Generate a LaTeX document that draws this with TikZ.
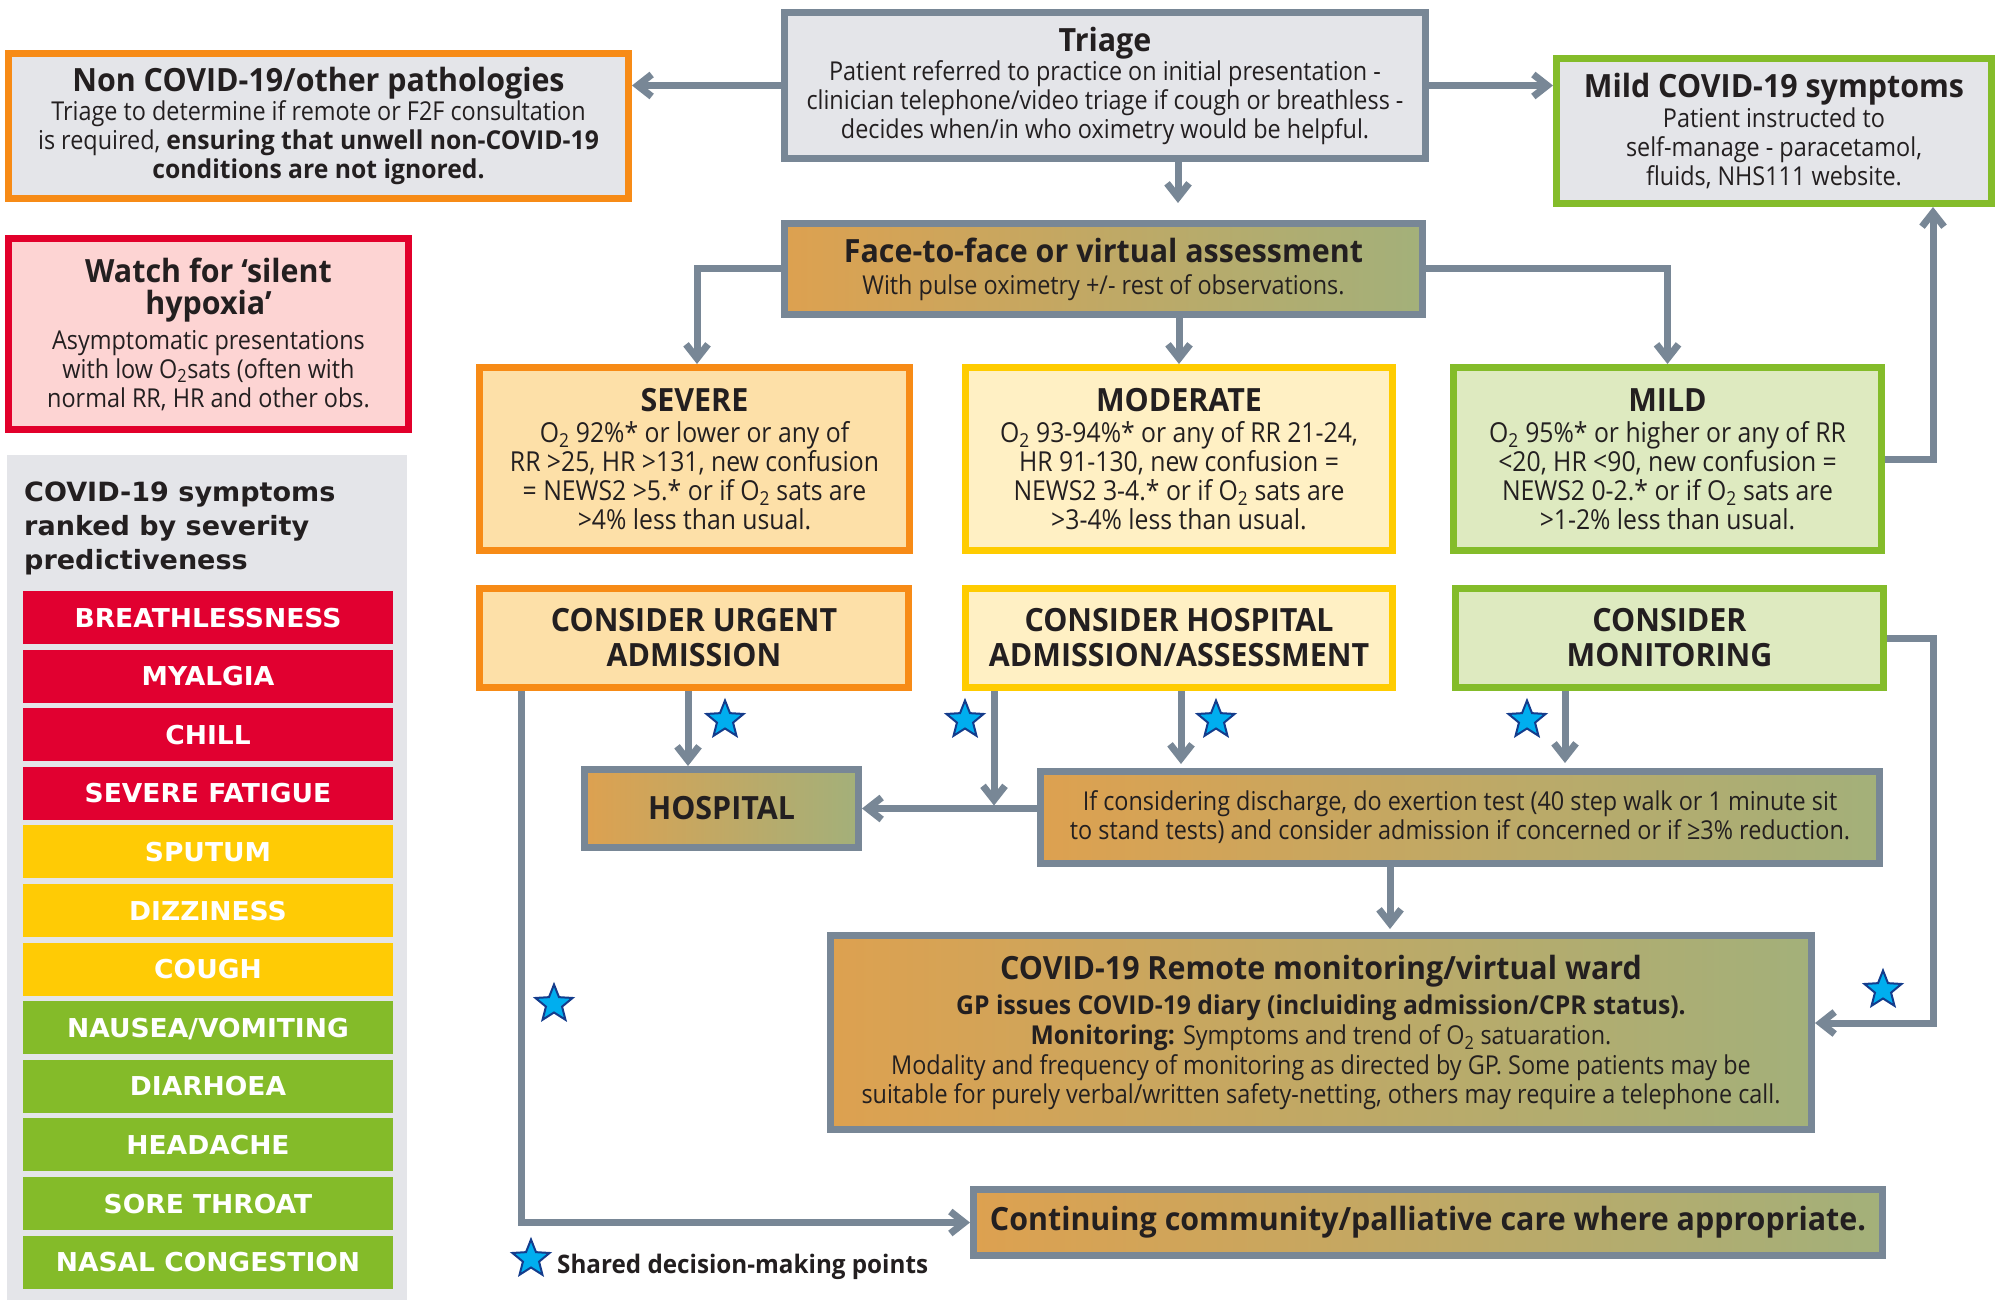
\documentclass[tikz,border=0pt]{standalone}
\usepackage{fontspec}
\setmainfont{Open Sans}[UprightFeatures={FakeStretch=0.9}, BoldFeatures={FakeStretch=0.95}]
\newfontfamily\widefont{DejaVu Sans}[FakeStretch=1.02]
\usetikzlibrary{arrows.meta,shapes.geometric}
\definecolor{agrey}{RGB}{120,135,150}
\definecolor{boxgrey}{RGB}{228,229,233}
\definecolor{orng}{RGB}{247,139,22}
\definecolor{redb}{RGB}{226,0,43}
\definecolor{pinkf}{RGB}{253,212,211}
\definecolor{grn}{RGB}{132,188,42}
\definecolor{grnf}{RGB}{222,234,192}
\definecolor{yel}{RGB}{255,204,0}
\definecolor{yelf}{RGB}{255,240,196}
\definecolor{orf}{RGB}{253,224,168}
\definecolor{gL}{RGB}{221,161,80}
\definecolor{gM}{RGB}{244,200,64}
\definecolor{gR}{RGB}{163,176,122}
\definecolor{starf}{RGB}{0,174,239}
\definecolor{stard}{RGB}{20,60,140}
\definecolor{symr}{RGB}{225,0,48}
\definecolor{symy}{RGB}{255,203,5}
\definecolor{symg}{RGB}{132,187,41}
\definecolor{txt}{RGB}{35,31,32}
\newcommand{\ttl}{\fontsize{32}{35}\selectfont\bfseries}
\newcommand{\bdy}{\fontsize{26}{29}\selectfont}
\newcommand{\sev}{\fontsize{27.5}{29}\selectfont}
\newcommand{\Otwo}{O\textsubscript{2}}
\begin{document}
\begin{tikzpicture}[x=1pt,y=-1pt,
  box/.style={rectangle, line width=7pt, inner sep=0pt, align=center, text=txt, font=\bdy},
  grad/.style={box, draw=agrey, left color=gL, middle color=gM, right color=gR},
  arr/.style={draw=agrey, line width=7pt, -{Straight Barb[length=14pt,width=22pt]}},
  sdm/.style={star, star points=5, star point ratio=2.3, minimum size=39pt, inner sep=0pt, fill=starf, draw=stard, line width=2pt},
  bar/.style={rectangle, minimum width=370pt, minimum height=53pt, inner sep=0pt, text=white, font=\widefont\bfseries\fontsize{26}{30}\selectfont, text height=19pt, text depth=0pt}]
\useasboundingbox (0,0) rectangle (1998,1300);
\fill[white] (0,0) rectangle (1998,1300);

% top row
\node[box, draw=orng, fill=boxgrey, minimum width=620pt, minimum height=145pt] (noncovid) at (318.5,126)
 {{\ttl Non COVID-19/other pathologies}\\ Triage to determine if remote or F2F consultation\\ is required, \textbf{ensuring that unwell non-COVID-19}\\ \textbf{conditions are not ignored.}};
\node[box, draw=agrey, fill=boxgrey, minimum width=641pt, minimum height=146pt] (triage) at (1105,85.5)
 {{\ttl Triage}\\ Patient referred to practice on initial presentation -\\ clinician telephone/video triage if cough or breathless -\\ decides when/in who oximetry would be helpful.};
\node[box, draw=grn, fill=boxgrey, minimum width=435pt, minimum height=145pt] (mildcovid) at (1774,131)
 {{\ttl Mild COVID-19 symptoms}\\[1pt] Patient instructed to\\ self-manage - paracetamol,\\ fluids, NHS111 website.};
\node[box, draw=redb, fill=pinkf, minimum width=400pt, minimum height=191pt] (watch) at (208.5,334)
 {{\ttl Watch for ‘silent}\\[3pt]{\ttl hypoxia’}\\[6pt] Asymptomatic presentations\\ with low \Otwo sats (often with\\ normal RR, HR and other obs.};
\node[grad, minimum width=638pt, minimum height=91pt] (face) at (1103.5,269)
 {{\ttl Face-to-face or virtual assessment}\\[3pt] With pulse oximetry +/- rest of observations.};

% severity row
\node[box, draw=orng, fill=orf, minimum width=430pt, minimum height=183pt, font=\sev] (severe) at (694.5,459)
 {{\ttl SEVERE}\\[2pt] \Otwo{} 92\%* or lower or any of\\ RR >25, HR >131, new confusion\\ = NEWS2 >5.* or if \Otwo{} sats are\\ >4\% less than usual.};
\node[box, draw=yel, fill=yelf, minimum width=427pt, minimum height=183pt, font=\sev] (moderate) at (1179,459)
 {{\ttl MODERATE}\\[2pt] \Otwo{} 93-94\%* or any of RR 21-24,\\ HR 91-130, new confusion =\\ NEWS2 3-4.* or if \Otwo{} sats are\\ >3-4\% less than usual.};
\node[box, draw=grn, fill=grnf, minimum width=428pt, minimum height=183pt, font=\sev] (mild) at (1667.5,459)
 {{\ttl MILD}\\[2pt] \Otwo{} 95\%* or higher or any of RR\\ <20, HR <90, new confusion =\\ NEWS2 0-2.* or if \Otwo{} sats are\\ >1-2\% less than usual.};

% consider row
\node[box, draw=orng, fill=orf, minimum width=429pt, minimum height=99pt, font=\ttl] (urgent) at (694,638)
 {CONSIDER URGENT\\ ADMISSION};
\node[box, draw=yel, fill=yelf, minimum width=427pt, minimum height=99pt, font=\ttl] (conshosp) at (1179,638)
 {CONSIDER HOSPITAL\\ ADMISSION/ASSESSMENT};
\node[box, draw=grn, fill=grnf, minimum width=428pt, minimum height=99pt, font=\ttl] (consmon) at (1669.5,638)
 {CONSIDER\\ MONITORING};

\node[grad, minimum width=274pt, minimum height=78pt, font=\ttl] (hospital) at (721.5,808.5) {HOSPITAL};
\node[grad, minimum width=839pt, minimum height=92pt] (exertion) at (1460,817.5)
 {If considering discharge, do exertion test (40 step walk or 1 minute sit\\ to stand tests) and consider admission if concerned or if ≥3\% reduction.};
\node[grad, minimum width=981pt, minimum height=194pt] (remote) at (1321,1032.5)
 {{\ttl COVID-19 Remote monitoring/virtual ward}\\[6pt] \textbf{GP issues COVID-19 diary (incluiding admission/CPR status).}\\[1pt] \textbf{Monitoring:} Symptoms and trend of \Otwo{} satuaration.\\[1pt] Modality and frequency of monitoring as directed by GP. Some patients may be\\ suitable for purely verbal/written safety-netting, others may require a telephone call.};
\node[grad, minimum width=909pt, minimum height=66pt, font=\ttl] (continuing) at (1428,1222.5)
 {Continuing community/palliative care where appropriate.};

% symptom panel
\node[rectangle, fill=boxgrey, minimum width=400pt, minimum height=845pt, inner sep=0pt] (panel) at (207,877.5) {};
\node[anchor=base west, align=left, text=txt, inner sep=0pt, font=\widefont\bfseries\fontsize{26.5}{34}\selectfont] (ptitle) at (24,569)
 {COVID-19 symptoms\\ ranked by severity\\ predictiveness};
\foreach \t/\c [count=\i from 0] in {BREATHLESSNESS/symr, MYALGIA/symr, CHILL/symr, SEVERE FATIGUE/symr, SPUTUM/symy, DIZZINESS/symy, COUGH/symy, {NAUSEA/VOMITING}/symg, DIARHOEA/symg, HEADACHE/symg, SORE THROAT/symg, NASAL CONGESTION/symg}
  \node[bar, fill=\c] (bar\i) at (208,{617.5+58.6*\i}) {\t};

% connectors
\coordinate (xa) at (1178,0);
\coordinate (xs) at (697,0);
\coordinate (xm) at (1933,0);
\coordinate (xu) at (688,0);
\coordinate (xl) at (521,0);
\coordinate (xh) at (994,0);
\coordinate (xe) at (1181,0);
\coordinate (xc) at (1565,0);
\coordinate (xr) at (1390,0);
\coordinate (mr) at (1933,1023);

\draw[arr] (triage.west) -- (triage.west -| noncovid.east);
\draw[arr] (triage.east) -- (triage.east -| mildcovid.west);
\draw[arr, shorten >=17pt] (triage.south -| xa) -- (face.north -| xa);
\draw[arr] (face.west) -| (severe.north -| xs);
\draw[arr] (face.south -| moderate.north) -- (moderate.north);
\draw[arr] (face.east) -| (mild.north);
\draw[arr] (mild.east) -| (mildcovid.south -| xm);
\draw[arr] (urgent.south -| xu) -- (hospital.north -| xu);
\draw[arr] (urgent.south -| xl) |- (continuing.west);
\draw[arr, shorten >=3pt] (conshosp.south -| xh) -- (hospital.east -| xh);
\draw[arr, shorten >=4pt] (conshosp.south -| xe) -- (exertion.north -| xe);
\draw[arr, shorten >=5pt] (consmon.south -| xc) -- (exertion.north -| xc);
\draw[arr] (hospital.east -| exertion.west) -- (hospital.east);
\draw[arr, shorten >=3pt] (exertion.south -| xr) -- (remote.north -| xr);
\draw[arr] (consmon.east) -| (mr) -- (mr -| remote.east);

% stars
\node[sdm] (s1) at (725,720) {};
\node[sdm] (s2) at (965,720) {};
\node[sdm] (s3) at (1216,720) {};
\node[sdm] (s4) at (1527,720) {};
\node[sdm] (s5) at (1883,990) {};
\node[sdm] (s6) at (554,1004) {};
\node[sdm] (s7) at (531,1259) {};
\node[anchor=base west, inner sep=0pt, text=txt, font=\bfseries\fontsize{25.5}{30}\selectfont] (legend) at (557,1273) {Shared decision-making points};
\end{tikzpicture}
\end{document}
